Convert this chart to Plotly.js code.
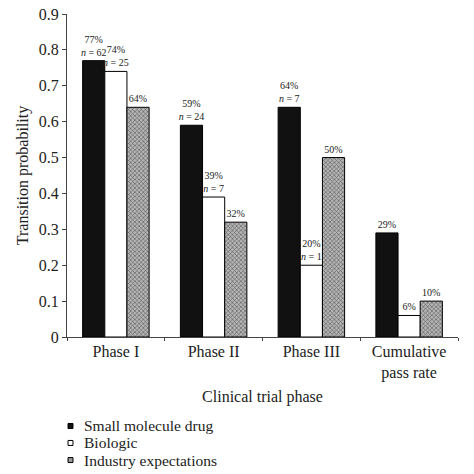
<!DOCTYPE html>
<html>
<head>
<meta charset="utf-8">
<script src="https://cdn.plot.ly/plotly-3.0.1.min.js"></script>
<style>html,body{margin:0;padding:0;background:#fff;}#chart{width:474px;height:474px;}</style>
</head>
<body>
<div id="chart"></div>
<script>
const categories = ["Phase I", "Phase II", "Phase III", "Cumulative<br>pass rate"];
const seriesNames = ["Small molecule drug", "Biologic", "Industry expectations"];
const smallMolecule = [0.77, 0.59, 0.64, 0.29];
const biologic = [0.74, 0.39, 0.20, 0.06];
const industry = [0.64, 0.32, 0.50, 0.10];
const smallMoleculeN = [62, 24, 7, null];
const biologicN = [25, 7, 1, null];

function labels(vals, ns) {
  return vals.map((v, i) => Math.round(v * 100) + "%" + (ns && ns[i] != null ? "<br><i>n</i> = " + ns[i] : ""));
}

const font = "Liberation Serif";
const common = {
  type: "bar",
  x: categories,
  textposition: "outside",
  constraintext: "none",
  cliponaxis: false,
  textfont: {family: font, size: 10, color: "#222"},
  hoverinfo: "none",
  showlegend: false
};

const fills = [
  {color: "#111", line: {color: "#000", width: 1}},
  {color: "#fff", line: {color: "#000", width: 1}},
  {color: "#999", line: {color: "#000", width: 1},
    pattern: {shape: "x", size: 3, solidity: 0.35, fgcolor: "#555", bgcolor: "#b5b5b5"}}
];
const legendColors = ["#111", "#fff", "#999"];

const traces = [
  Object.assign({}, common, {name: seriesNames[0], y: smallMolecule, text: labels(smallMolecule, smallMoleculeN), marker: fills[0]}),
  Object.assign({}, common, {name: seriesNames[1], y: biologic, text: labels(biologic, biologicN), marker: fills[1]}),
  Object.assign({}, common, {name: seriesNames[2], y: industry, text: labels(industry, null), marker: fills[2]})
];

// Legend drawn below the plot, as in the reference (tight line spacing)
const legendY = [-0.2755, -0.328, -0.381];
const annotations = seriesNames.map((nm, i) => ({
  xref: "paper", yref: "paper", x: 0.038, y: legendY[i], xanchor: "left", yanchor: "middle",
  text: nm, showarrow: false, font: {family: font, size: 15.5, color: "#222"}
}));
const shapes = seriesNames.map((nm, i) => ({
  type: "rect", xref: "paper", yref: "paper",
  x0: 0.0026, x1: 0.0153, y0: legendY[i] - 0.0077, y1: legendY[i] + 0.0077,
  fillcolor: legendColors[i], line: {color: "#000", width: 1}
}));

const layout = {
  width: 474, height: 474,
  margin: {l: 67, r: 16, t: 14, b: 137, autoexpand: false},
  paper_bgcolor: "#fff", plot_bgcolor: "#fff",
  font: {family: font, size: 15, color: "#222"},
  barmode: "group", bargap: 0.32, bargroupgap: 0,
  showlegend: false,
  annotations: annotations,
  shapes: shapes,
  xaxis: {
    showline: true, linecolor: "#444", linewidth: 1,
    ticks: "outside", ticklen: 3, tickcolor: "#444", tickson: "boundaries", tickangle: 0,
    tickfont: {family: font, size: 16, color: "#222"},
    title: {text: "Clinical trial phase", font: {family: font, size: 16, color: "#222"}, standoff: 9},
    showgrid: false, zeroline: false
  },
  yaxis: {
    range: [0, 0.9], dtick: 0.1, showline: true, linecolor: "#444", linewidth: 1,
    ticks: "outside", ticklen: 4, tickcolor: "#444",
    tickfont: {family: font, size: 16, color: "#222"},
    title: {text: "Transition probability", font: {family: font, size: 16, color: "#222"}, standoff: 6},
    showgrid: false, zeroline: false
  }
};

Plotly.newPlot("chart", traces, layout, {staticPlot: true});
</script>
</body>
</html>
